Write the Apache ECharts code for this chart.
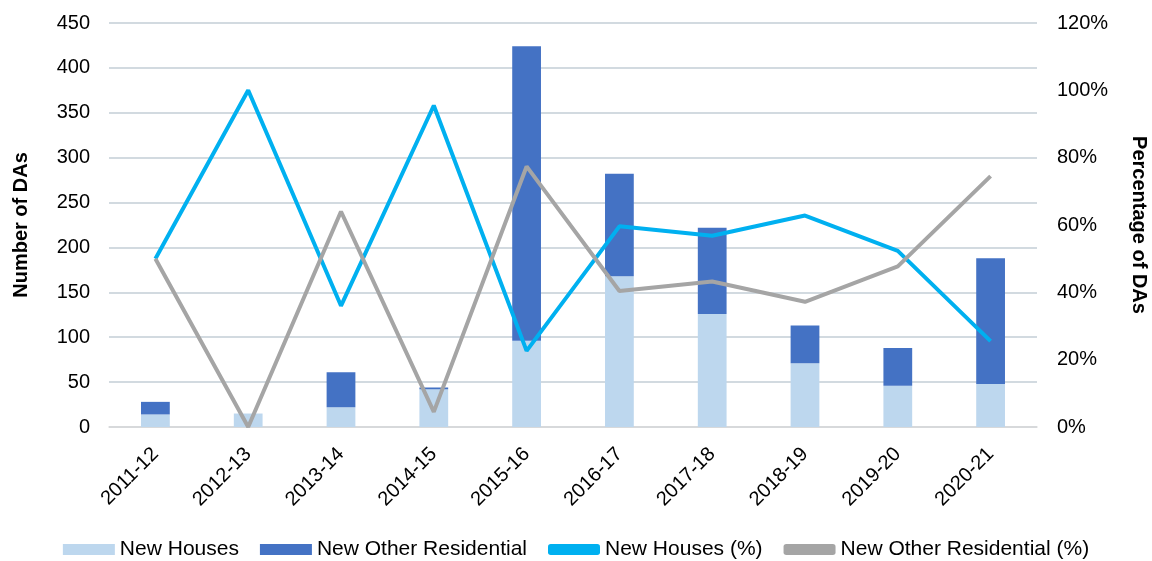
<!DOCTYPE html>
<html lang="en">
<head>
    <meta charset="UTF-8">
    <title>DAs by year</title>
    <script src="https://cdn.jsdelivr.net/npm/echarts@6.0.0/dist/echarts.min.js"></script>
    <style>
        html, body { margin: 0; padding: 0; background: #fff; }
    </style>
</head>
<body>
    <div id="main" style="width: 1152px; height: 561px;"></div>
    <script type="text/javascript">
        // Values
        const years = ['2011-12', '2012-13', '2013-14', '2014-15', '2015-16',
                       '2016-17', '2017-18', '2018-19', '2019-20', '2020-21'];
        const newHouses = [14, 15, 22, 42, 96, 168, 126, 71, 46, 48];
        const newOther = [14, 0, 39, 2, 328, 114, 96, 42, 42, 140];
        const housesPct = [50, 100, 36, 95.5, 22.6, 59.6, 56.8, 62.8, 52.3, 25.5];
        const otherPct = [50, 0, 64, 4.5, 77.4, 40.4, 43.2, 37.2, 47.7, 74.5];

        const font = 'Liberation Sans, Arial, sans-serif';
        let myChart = echarts.init(document.getElementById('main'));

        let options = {
            animation: false,
            textStyle: { fontFamily: font },
            grid: { left: 109, right: 115, top: 23, bottom: 134, outerBoundsMode: 'none', containLabel: false },
            legend: {
                top: 534,
                left: 'center',
                itemWidth: 52,
                itemHeight: 11,
                itemGap: 21,
                textStyle: { fontSize: 21, color: '#000', fontFamily: font },
                data: [
                    { name: 'New Houses', icon: 'rect' },
                    { name: 'New Other Residential', icon: 'rect' },
                    { name: 'New Houses (%)', icon: 'roundRect' },
                    { name: 'New Other Residential (%)', icon: 'roundRect' }
                ]
            },
            xAxis: {
                type: 'category',
                data: years,
                axisLine: { lineStyle: { color: '#d9d9d9', width: 1.5 } },
                axisTick: { show: false },
                axisLabel: { rotate: 45, fontSize: 20, color: '#000', margin: 24 }
            },
            yAxis: [{
                type: 'value',
                min: 0, max: 450, interval: 50,
                name: 'Number of DAs',
                nameLocation: 'middle',
                nameGap: 78,
                nameTextStyle: { fontSize: 20, fontWeight: 'bold', color: '#000' },
                axisLabel: { fontSize: 20, color: '#000', margin: 19 },
                splitLine: { lineStyle: { color: '#c3ced6', width: 1.5 } }
            }, {
                type: 'value',
                min: 0, max: 120, interval: 20,
                name: 'Percentage of DAs',
                nameLocation: 'middle',
                nameRotate: -90,
                nameGap: 92,
                nameTextStyle: { fontSize: 20, fontWeight: 'bold', color: '#000' },
                axisLabel: { fontSize: 20, color: '#000', margin: 20, formatter: '{value}%' },
                splitLine: { show: false }
            }],
            series: [{
                name: 'New Houses',
                type: 'bar',
                stack: 'das',
                barWidth: '31%',
                itemStyle: { color: '#bdd7ee' },
                data: newHouses
            }, {
                name: 'New Other Residential',
                type: 'bar',
                stack: 'das',
                itemStyle: { color: '#4472c4' },
                data: newOther
            }, {
                name: 'New Houses (%)',
                type: 'line',
                yAxisIndex: 1,
                symbol: 'none',
                lineStyle: { color: '#00b0f0', width: 4 },
                itemStyle: { color: '#00b0f0' },
                data: housesPct
            }, {
                name: 'New Other Residential (%)',
                type: 'line',
                yAxisIndex: 1,
                symbol: 'none',
                lineStyle: { color: '#a5a5a5', width: 4 },
                itemStyle: { color: '#a5a5a5' },
                data: otherPct
            }]
        };

        myChart.setOption(options);
    </script>
</body>
</html>
